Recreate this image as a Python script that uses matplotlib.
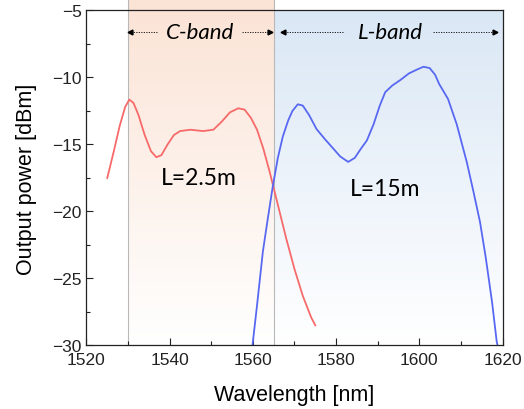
import numpy as np
import matplotlib
matplotlib.use("Agg")
import matplotlib.pyplot as plt
from matplotlib.ticker import MultipleLocator

# spectra
wl_short = [1525.0, 1526.5, 1528.0, 1529.3, 1530.3, 1531.3, 1532.5, 1534.0, 1535.5,
            1536.8, 1538.0, 1539.5, 1541.0, 1542.5, 1545.0, 1548.0, 1550.5, 1552.5,
            1554.5, 1556.5, 1558.0, 1559.5, 1561.0, 1562.5, 1564.0, 1566.0, 1568.0,
            1570.0, 1572.0, 1574.0, 1575.0]
p_short = [-17.5, -15.6, -13.6, -12.2, -11.65, -11.9, -12.8, -14.3, -15.5,
           -15.95, -15.8, -15.0, -14.3, -14.0, -13.9, -14.0, -13.9, -13.3,
           -12.6, -12.3, -12.4, -13.0, -13.9, -15.3, -17.0, -19.5, -22.0,
           -24.3, -26.3, -27.9, -28.5]

wl_long = [1559.9, 1561.0, 1562.4, 1563.6, 1564.8, 1566.0, 1567.2, 1568.5, 1569.5,
           1570.8, 1572.0, 1573.5, 1575.3, 1577.3, 1579.3, 1581.0, 1582.9, 1584.5,
           1586.0, 1587.4, 1589.0, 1590.5, 1591.8, 1593.5, 1595.4, 1597.5, 1599.5,
           1601.0, 1602.5, 1603.8, 1604.8, 1606.9, 1609.0, 1611.4, 1613.0, 1614.6,
           1616.0, 1617.5, 1618.6, 1618.8]
p_long = [-30.0, -27.0, -23.0, -20.5, -18.1, -16.0, -14.4, -13.2, -12.5,
          -12.0, -12.1, -12.8, -13.85, -14.6, -15.3, -15.9, -16.3, -16.0,
          -15.3, -14.7, -13.5, -12.1, -11.1, -10.6, -10.2, -9.7, -9.4,
          -9.2, -9.3, -9.8, -10.5, -11.6, -13.5, -16.3, -18.5, -20.8,
          -23.5, -26.8, -29.7, -30.0]

c_band = (1530, 1565)
l_band = (1565, 1620)
labels = ["L=2.5m", "L=15m"]

fig = plt.figure(figsize=(5.24, 4.10), dpi=100)
ax = fig.add_axes([0.165, 0.155, 0.794, 0.817])
ax.set_xlim(1520, 1620)
ax.set_ylim(-30, -5)

# gradient shading for the two bands
def gradient(x0, x1, y0, y1, top_rgb):
    n = 256
    t = np.linspace(0, 1, n)[:, None]          # 0 at top, 1 at bottom
    top = np.array(top_rgb) / 255.0
    col = top[None, :] * (1 - t) + np.ones(3)[None, :] * t
    img = np.repeat(col[:, None, :], 2, axis=1)
    im = ax.imshow(img, extent=[x0, x1, y0, y1], aspect="auto",
                   zorder=0.5, interpolation="bilinear")
    im.set_clip_on(False)

gradient(l_band[0], l_band[1], -30, -5, (218, 231, 245))
gradient(c_band[0], c_band[1], -30, -4.1, (251, 227, 213))
ax.plot([c_band[0], c_band[0], c_band[1], c_band[1]], [-30, -4.1, -4.1, -30],
        color="#b8b8b8", lw=0.8, clip_on=False, zorder=0.6)
ax.plot([c_band[0], c_band[1]], [-30, -30], color="#b8b8b8", lw=0.8, zorder=0.6)
ax.set_xlim(1520, 1620)
ax.set_ylim(-30, -5)

ax.plot(wl_short, p_short, color="#f76a6a", lw=1.3, zorder=3)
ax.plot(wl_long, p_long, color="#5868f2", lw=1.3, zorder=3)

ax.text(1546.9, -17.5, labels[0], fontsize=16.5, family="Lato", ha="center", va="center")
ax.text(1591.9, -18.3, labels[1], fontsize=16.5, family="Lato", ha="center", va="center")

# band labels with dotted arrows
yb = -6.6
ax.text(1547.2, yb, "C-band", fontsize=16, family="Lato", style="italic",
        ha="center", va="center")
ax.text(1593.0, yb, "L-band", fontsize=16, family="Lato", style="italic",
        ha="center", va="center")
arrows = [(1537.0, 1530.4), (1557.4, 1564.1), (1581.7, 1567.2), (1603.3, 1618.3)]
for xs, xe in arrows:
    ax.plot([xs, xe], [yb, yb], color="black", lw=0.6, ls=(0, (1.5, 1.5)), zorder=4)
    ax.plot([xe], [yb], marker="<" if xe < xs else ">", color="black",
            markersize=3.5, zorder=4)

ax.xaxis.set_major_locator(MultipleLocator(20))
ax.xaxis.set_minor_locator(MultipleLocator(10))
ax.yaxis.set_major_locator(MultipleLocator(5))
ax.yaxis.set_minor_locator(MultipleLocator(2.5))
ax.tick_params(which="both", direction="in", labelsize=12.5, colors="#222222")
ax.tick_params(which="major", length=5, width=0.8)
ax.tick_params(axis="x", which="major", pad=5)
ax.tick_params(which="minor", length=3, width=0.8)
for lab in ax.get_xticklabels() + ax.get_yticklabels():
    lab.set_family("Liberation Sans")
for s in ax.spines.values():
    s.set_linewidth(0.9)
    s.set_color("#222222")
    s.set_zorder(5)

ax.set_xlabel("Wavelength [nm]", fontsize=15.5, family="Liberation Sans", labelpad=12)
ax.set_ylabel("Output power [dBm]", fontsize=15.5, family="Liberation Sans", labelpad=11)

fig.savefig("out.png", dpi=100)
